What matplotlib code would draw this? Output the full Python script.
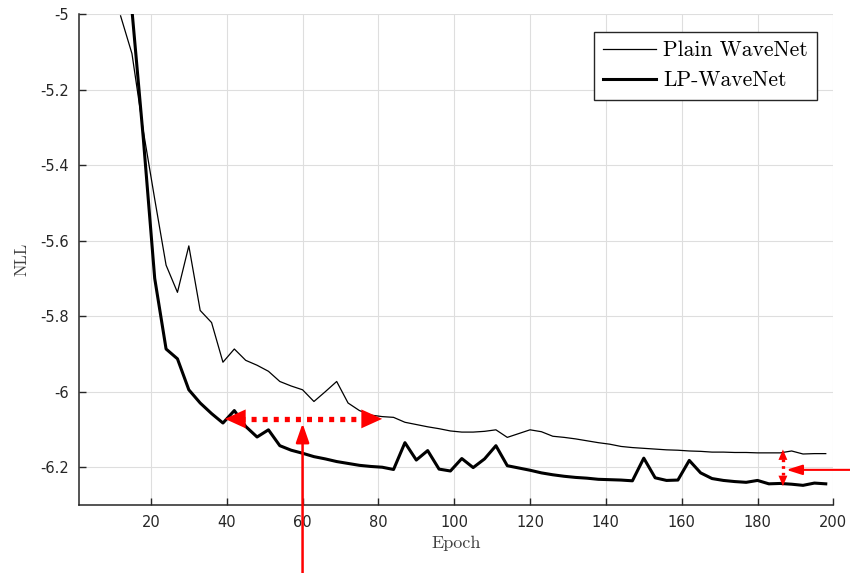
#!/usr/bin/env python3
"""NLL vs epoch: Plain WaveNet vs LP-WaveNet, with red callout arrows."""
import numpy as np
import matplotlib
matplotlib.use("Agg")
import matplotlib.pyplot as plt  # noqa: E402
from matplotlib.ticker import FuncFormatter  # noqa: E402

# epochs are logged every 3 epochs
EPOCHS = list(range(12, 199, 3))

PLAIN_NLL = [
    -5.005, -5.105, -5.31, -5.49, -5.665, -5.737, -5.614, -5.785, -5.817, -5.922,
    -5.887, -5.917, -5.930, -5.946, -5.973, -5.985, -5.995, -6.026, -6.000, -5.973,
    -6.030, -6.050, -6.062, -6.066, -6.068, -6.081, -6.087, -6.093, -6.098, -6.104,
    -6.107, -6.107, -6.105, -6.101, -6.121, -6.111, -6.101, -6.106, -6.118, -6.121,
    -6.125, -6.130, -6.135, -6.139, -6.145, -6.148, -6.150, -6.152, -6.154, -6.155,
    -6.157, -6.158, -6.160, -6.160, -6.161, -6.161, -6.162, -6.162, -6.162, -6.157,
    -6.165, -6.164, -6.164,
]

LP_NLL = [
    -4.62, -4.99, -5.33, -5.70, -5.887, -5.913, -5.995, -6.030, -6.058, -6.083,
    -6.050, -6.092, -6.120, -6.101, -6.143, -6.155, -6.163, -6.172, -6.178, -6.185,
    -6.190, -6.195, -6.198, -6.200, -6.206, -6.135, -6.181, -6.156, -6.205, -6.210,
    -6.177, -6.201, -6.178, -6.143, -6.196, -6.202, -6.208, -6.215, -6.220, -6.224,
    -6.227, -6.229, -6.232, -6.233, -6.234, -6.236, -6.176, -6.228, -6.235, -6.234,
    -6.182, -6.215, -6.230, -6.235, -6.238, -6.240, -6.235, -6.244, -6.243, -6.245,
    -6.248, -6.242, -6.244,
]

X_TICKS = list(range(20, 201, 20))
Y_TICKS = [-6.2, -6.0, -5.8, -5.6, -5.4, -5.2, -5.0]

# callouts (data coords)
GAP_Y = -6.072          # horizontal "same NLL, fewer epochs" arrow
GAP_X = (39.5, 81.0)
UP_ARROW_X = 60
UP_ARROW_TIP = -6.084
END_X = 186.7           # vertical final-gap arrow
END_Y = (-6.153, -6.250)
SIDE_Y = -6.207
SIDE_TIP_X = 187.6

RED = "#ff0000"
AX_GRAY = "#262626"
SERIF = "cmr10"

fig = plt.figure(figsize=(8.5, 5.73), dpi=100)
ax = fig.add_axes([0.0928, 0.1187, 0.8876, 0.8569])

ax.plot(EPOCHS, PLAIN_NLL, color="black", lw=0.9, label="Plain WaveNet")
ax.plot(EPOCHS, LP_NLL, color="black", lw=2.2, label="LP-WaveNet")

ax.set_xlim(1, 200)
ax.set_ylim(-6.3, -5)
ax.set_xticks(X_TICKS)
ax.set_yticks(Y_TICKS)
ax.yaxis.set_major_formatter(FuncFormatter(lambda v, _: f"{v:g}".replace("\u2212", "-")))
ax.grid(True, color="#dedede", lw=0.8)
ax.set_axisbelow(True)
for s in ("top", "right"):
    ax.spines[s].set_visible(False)
for s in ("left", "bottom"):
    ax.spines[s].set_color(AX_GRAY)
    ax.spines[s].set_linewidth(1.1)
ax.tick_params(direction="in", length=5, width=1.0, color=AX_GRAY,
               labelcolor=AX_GRAY, labelsize=10.5, pad=7)

ax.set_xlabel("Epoch", family=SERIF, fontsize=13, color="#404040", labelpad=4)
ax.set_ylabel("NLL", family=SERIF, fontsize=12, color="#404040", labelpad=8)

leg = ax.legend(loc="upper right", bbox_to_anchor=(0.978, 0.964), borderaxespad=0,
                prop={"family": SERIF, "size": 15.5}, fancybox=False, framealpha=1,
                edgecolor=AX_GRAY, handlelength=2.5, handletextpad=0.3,
                borderpad=0.42, labelspacing=0.5)
leg.get_frame().set_linewidth(1.0)

# horizontal dotted double arrow
ax.plot([GAP_X[0] + 4, GAP_X[1] - 4], [GAP_Y, GAP_Y], color=RED, lw=3.8,
        dashes=(0.95, 1.15), dash_capstyle="butt")
head = dict(arrowstyle="-|>,head_length=15,head_width=6.8", color=RED, lw=0,
            mutation_scale=1, shrinkA=0, shrinkB=0)
ax.annotate("", xy=(GAP_X[0], GAP_Y), xytext=(GAP_X[0] + 8, GAP_Y), arrowprops=head)
ax.annotate("", xy=(GAP_X[1], GAP_Y), xytext=(GAP_X[1] - 8, GAP_Y), arrowprops=head)

# arrow from below the axes up to the dotted line
ax.annotate("", xy=(UP_ARROW_X, UP_ARROW_TIP), xytext=(UP_ARROW_X, -6.49),
            annotation_clip=False,
            arrowprops=dict(arrowstyle="-|>,head_length=11.5,head_width=4", color=RED,
                            lw=1.8, mutation_scale=1, shrinkA=0, shrinkB=0))

# small vertical dotted double arrow at the end
ax.plot([END_X, END_X], [END_Y[0] - 0.026, END_Y[1] + 0.026], color=RED, lw=2.4,
        dashes=(0.8, 1.2), dash_capstyle="butt")
vhead = dict(arrowstyle="-|>,head_length=7.5,head_width=3.2", color=RED, lw=0,
             mutation_scale=1, shrinkA=0, shrinkB=0)
ax.annotate("", xy=(END_X, END_Y[0]), xytext=(END_X, END_Y[0] - 0.04), arrowprops=vhead)
ax.annotate("", xy=(END_X, END_Y[1]), xytext=(END_X, END_Y[1] + 0.04), arrowprops=vhead)

# arrow from the right margin
ax.annotate("", xy=(SIDE_TIP_X, SIDE_Y), xytext=(205, SIDE_Y), annotation_clip=False,
            arrowprops=dict(arrowstyle="-|>,head_length=9.5,head_width=3", color=RED,
                            lw=1.5, mutation_scale=1, shrinkA=0, shrinkB=0))

fig.savefig("out.png", dpi=100)
